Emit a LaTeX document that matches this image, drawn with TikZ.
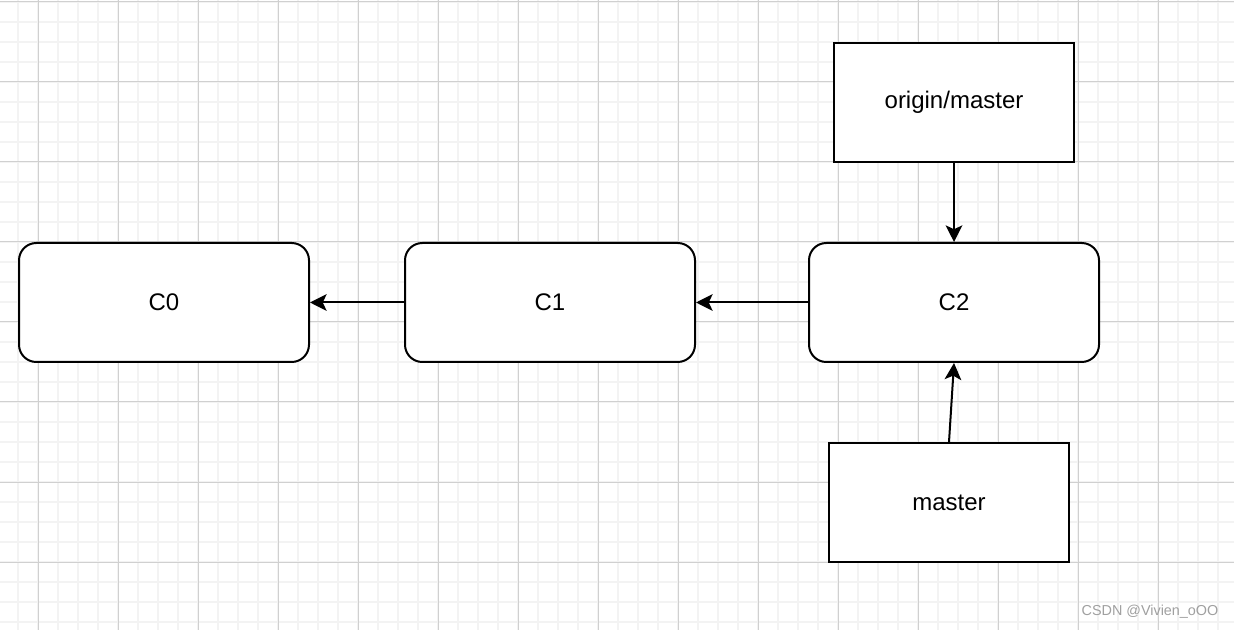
\documentclass[tikz,border=0pt]{standalone}
\usepackage{fontspec}
\setmainfont{Liberation Sans}
\usepackage{tikz}
\usetikzlibrary{arrows.meta,positioning}

\definecolor{minorgrid}{HTML}{F3F3F3}
\definecolor{majorgrid}{HTML}{D0D0D0}
\definecolor{markgray}{HTML}{A0A0A0}

\begin{document}
\begin{tikzpicture}[x=0.75pt, y=-0.75pt,
    commit/.style={draw, line width=1.5pt, rounded corners=13pt, fill=white,
      minimum width=217.5pt, minimum height=89.25pt, inner sep=0pt,
      font=\fontsize{18pt}{20pt}\selectfont},
    branch/.style={draw, line width=1.5pt, fill=white,
      minimum width=180pt, minimum height=89.25pt, inner sep=0pt,
      font=\fontsize{18pt}{20pt}\selectfont},
    link/.style={line width=1.5pt, -{Stealth[length=12.5pt, width=12.5pt, inset=3pt]}}]
      \useasboundingbox (0, 0) rectangle (1234, 630);
      % background grid
      \fill[white] (0, 0) rectangle (1234, 630);
      \foreach \gx in {18, 38, ..., 1234}
        \draw[minorgrid, line width=1.5pt] (\gx, 0) -- (\gx, 630);
      \foreach \gy in {2, 22, ..., 630}
        \draw[minorgrid, line width=1.5pt] (0, \gy) -- (1234, \gy);
      \foreach \gx in {38, 118, ..., 1234}
        \draw[majorgrid, line width=0.75pt] (\gx, 0) -- (\gx, 630);
      \foreach \gy in {2, 82, ..., 630}
        \draw[majorgrid, line width=0.75pt] (0, \gy) -- (1234, \gy);
      % commits and branches
      \node[commit] (c0) at (164, 302.5) {C0};
      \node[commit] (c1) at (550, 302.5) {C1};
      \node[commit] (c2) at (954, 302.5) {C2};
      \node[branch] (origin) at (954, 102.5) {origin/master};
      \node[branch] (master) at (949, 502.5) {master};
      \draw[link] (c1) -- (c0);
      \draw[link] (c2) -- (c1);
      \draw[link] (origin) -- (c2);
      \draw[link] (master.north) -- (c2.south);
      \node[markgray, font=\fontsize{10.8pt}{12pt}\selectfont] (mark) at (1150, 612) {CSDN @Vivien\_oOO};
    \end{tikzpicture}
\end{document}
